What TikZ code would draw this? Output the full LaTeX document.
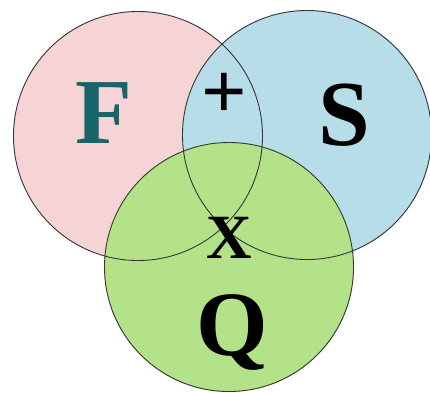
\documentclass[tikz,border=0pt]{standalone}
\usepackage{fontspec}
\setmainfont{Liberation Serif}
\definecolor{pinkf}{RGB}{246,212,214}
\definecolor{bluef}{RGB}{183,221,232}
\definecolor{greenf}{RGB}{179,226,136}
\definecolor{tealt}{RGB}{24,100,104}
\definecolor{edge}{RGB}{55,55,55}
\tikzset{
  disc/.style={circle, minimum size=250pt, inner sep=0pt, draw=none},
  rim/.style={draw=edge, line width=0.9pt},
  letter/.style={inner sep=0pt, anchor=base, font=\fontsize{#1}{#1}\selectfont\bfseries}
}
\begin{document}
\begin{tikzpicture}[x=1pt,y=-1pt]
\useasboundingbox (0,0) rectangle (430,392);
% fills
\node[disc, fill=pinkf] (cf) at (138,136) {};
\node[disc, fill=bluef] (cs) at (307,135) {};
\node[disc, fill=greenf] (cq) at (229,267) {};
% outlines
\draw[rim] (cf.center) circle (124.5);
\draw[rim] (cs.center) circle (124.5);
\draw[rim] (cq.center) circle (124.5);
% letters
\node[letter=93, text=tealt] (lf) at (104,143) {F};
\node[letter=93] (ls) at (344,145) {S};
\node[letter=63] (lx) at (229,258) {X};
\node[letter=92] (lq) at (232,355) {Q};
\node[inner sep=0pt, font=\fontsize{80}{80}\selectfont\bfseries] (lp) at (224,96) {+};
\end{tikzpicture}
\end{document}
